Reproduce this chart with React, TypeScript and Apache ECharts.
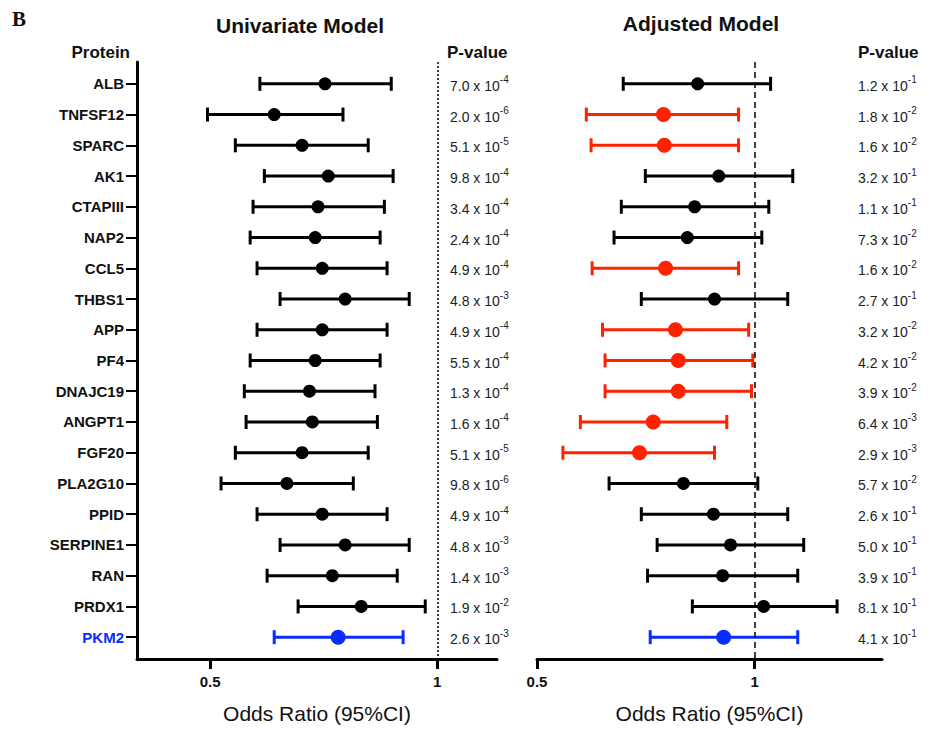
import React, { useEffect, useRef } from "react";
import * as echarts from "echarts";

// ---------------- data ----------------
const proteins = [
  "ALB", "TNFSF12", "SPARC", "AK1", "CTAPIII", "NAP2", "CCL5", "THBS1", "APP", "PF4",
  "DNAJC19", "ANGPT1", "FGF20", "PLA2G10", "PPID", "SERPINE1", "RAN", "PRDX1", "PKM2",
];

// Univariate model: odds ratio and 95% CI
const uniOR = [0.710, 0.608, 0.662, 0.717, 0.695, 0.689, 0.704, 0.755, 0.704, 0.689, 0.677, 0.683, 0.662, 0.632, 0.704, 0.755, 0.726, 0.793, 0.739];
const uniLo = [0.582, 0.496, 0.540, 0.590, 0.570, 0.565, 0.577, 0.619, 0.577, 0.565, 0.555, 0.558, 0.540, 0.517, 0.577, 0.619, 0.595, 0.654, 0.608];
const uniHi = [0.869, 0.750, 0.810, 0.874, 0.851, 0.840, 0.858, 0.918, 0.858, 0.840, 0.827, 0.833, 0.810, 0.774, 0.858, 0.918, 0.885, 0.964, 0.901];
const uniP = ["7.0e-4", "2.0e-6", "5.1e-5", "9.8e-4", "3.4e-4", "2.4e-4", "4.9e-4", "4.8e-3", "4.9e-4", "5.5e-4", "1.3e-4", "1.6e-4", "5.1e-5", "9.8e-6", "4.9e-4", "4.8e-3", "1.4e-3", "1.9e-2", "2.6e-3"];

// Adjusted model: odds ratio and 95% CI
const adjOR = [0.834, 0.748, 0.750, 0.892, 0.826, 0.807, 0.753, 0.880, 0.777, 0.784, 0.784, 0.724, 0.693, 0.797, 0.877, 0.926, 0.903, 1.029, 0.906];
const adjLo = [0.658, 0.585, 0.594, 0.706, 0.654, 0.639, 0.596, 0.697, 0.616, 0.621, 0.621, 0.574, 0.543, 0.629, 0.697, 0.733, 0.711, 0.820, 0.717];
const adjHi = [1.052, 0.950, 0.950, 1.129, 1.046, 1.023, 0.950, 1.111, 0.981, 0.994, 0.990, 0.915, 0.880, 1.010, 1.111, 1.169, 1.147, 1.300, 1.147];
const adjP = ["1.2e-1", "1.8e-2", "1.6e-2", "3.2e-1", "1.1e-1", "7.3e-2", "1.6e-2", "2.7e-1", "3.2e-2", "4.2e-2", "3.9e-2", "6.4e-3", "2.9e-3", "5.7e-2", "2.6e-1", "5.0e-1", "3.9e-1", "8.1e-1", "4.1e-1"];

const adjSignificant = ["TNFSF12", "SPARC", "CCL5", "APP", "PF4", "DNAJC19", "ANGPT1", "FGF20"];
const highlight = "PKM2";
const xTicks = [0.5, 1];

// ---------------- styling ----------------
const FONT = "'Liberation Sans', Arial, Helvetica, sans-serif";
const BLACK = "#000000";
const RED = "#ff2200";
const BLUE = "#0a2cff";
const rowIdx = proteins.map((_, i) => i);

const colorUni = (n: string) => (n === highlight ? BLUE : BLACK);
const colorAdj = (n: string) => (n === highlight ? BLUE : adjSignificant.includes(n) ? RED : BLACK);

const pRich = (s: string) => {
  const [m, e] = s.split("e");
  return `{m|${m} x 10}{e|${e}}`;
};

const pRichStyles = {
  m: { fontFamily: FONT, fontSize: 14, color: "#222", lineHeight: 18, verticalAlign: "bottom" },
  e: { fontFamily: FONT, fontSize: 10, color: "#222", lineHeight: 18, verticalAlign: "top" },
};

const errRender = (params: any, api: any) => {
  const y = api.value(2);
  const a = api.coord([api.value(0), y]);
  const b = api.coord([api.value(1), y]);
  const c = api.visual("color");
  const h = 7;
  const st = { stroke: c, lineWidth: 3 };
  return {
    type: "group",
    children: [
      { type: "line", shape: { x1: a[0], y1: a[1], x2: b[0], y2: b[1] }, style: st },
      { type: "line", shape: { x1: a[0], y1: a[1] - h, x2: a[0], y2: a[1] + h }, style: st },
      { type: "line", shape: { x1: b[0], y1: b[1] - h, x2: b[0], y2: b[1] + h }, style: st },
    ],
  };
};

const yBase = { type: "value", min: -0.71, max: 18.71, inverse: true, splitLine: { show: false } };

const xAxisCommon = (gridIndex: number, min: number, max: number) => ({
  gridIndex,
  type: "log",
  logBase: 2,
  min,
  max,
  splitLine: { show: false },
  axisLine: { show: true, onZero: false, lineStyle: { color: BLACK, width: 3 } },
  axisTick: { show: true, customValues: xTicks, length: 10, lineStyle: { color: BLACK, width: 3 } },
  axisLabel: {
    customValues: xTicks,
    formatter: (v: number) => String(v),
    fontFamily: FONT,
    fontSize: 15,
    fontWeight: "bold",
    color: "#111",
    margin: 15,
  },
  name: "Odds Ratio (95%CI)",
  nameLocation: "middle",
  nameGap: 44,
  nameTextStyle: { fontFamily: FONT, fontSize: 21, color: "#111" },
});

export default function App() {
  const ref = useRef<HTMLDivElement>(null);

  useEffect(() => {
    if (!ref.current) return;
    const chart = echarts.init(ref.current, undefined, { renderer: "svg" });

    const option: any = {
      animation: false,
      backgroundColor: "#ffffff",
      grid: [
        { left: 137, right: 433, top: 62, bottom: 66 },
        { left: 537, right: 48, top: 62, bottom: 66 },
      ],
      xAxis: [xAxisCommon(0, 0.4, 1.2), xAxisCommon(1, 0.5, 1.5)],
      yAxis: [
        {
          ...yBase,
          gridIndex: 0,
          position: "left",
          axisLine: { show: true, onZero: false, lineStyle: { color: BLACK, width: 3 } },
          axisTick: { show: true, customValues: rowIdx, length: 11, lineStyle: { color: BLACK, width: 2 } },
          axisLabel: {
            customValues: rowIdx,
            margin: 13,
            formatter: (v: number) => (proteins[v] === highlight ? `{h|${proteins[v]}}` : `{n|${proteins[v]}}`),
            rich: {
              n: { fontFamily: FONT, fontSize: 15, fontWeight: "bold", color: "#111" },
              h: { fontFamily: FONT, fontSize: 15, fontWeight: "bold", color: BLUE },
            },
          },
        },
        {
          ...yBase,
          gridIndex: 0,
          position: "right",
          offset: -47,
          axisLine: { show: false },
          axisTick: { show: false },
          axisLabel: {
            customValues: rowIdx,
            margin: 0,
            align: "left",
            formatter: (v: number) => pRich(uniP[v]),
            rich: pRichStyles,
          },
        },
        {
          ...yBase,
          gridIndex: 1,
          axisLine: { show: false },
          axisTick: { show: false },
          axisLabel: { show: false },
        },
        {
          ...yBase,
          gridIndex: 1,
          position: "right",
          offset: -24,
          axisLine: { show: false },
          axisTick: { show: false },
          axisLabel: {
            customValues: rowIdx,
            margin: 0,
            align: "left",
            formatter: (v: number) => pRich(adjP[v]),
            rich: pRichStyles,
          },
        },
      ],
      series: [
        {
          type: "custom",
          xAxisIndex: 0,
          yAxisIndex: 0,
          renderItem: errRender,
          encode: { x: [0, 1], y: 2 },
          data: proteins.map((n, i) => ({ value: [uniLo[i], uniHi[i], i], itemStyle: { color: colorUni(n) } })),
          markLine: {
            silent: true,
            symbol: ["none", "none"],
            label: { show: false },
            lineStyle: { type: [2, 2], color: BLACK, width: 1.5 },
            data: [{ xAxis: 1 }],
          },
          z: 2,
        },
        {
          type: "scatter",
          xAxisIndex: 0,
          yAxisIndex: 0,
          data: proteins.map((n, i) => ({
            value: [uniOR[i], i],
            symbolSize: n === highlight ? 15 : 13,
            itemStyle: { color: colorUni(n), opacity: 1 },
          })),
          z: 3,
        },
        {
          type: "custom",
          xAxisIndex: 1,
          yAxisIndex: 2,
          renderItem: errRender,
          encode: { x: [0, 1], y: 2 },
          data: proteins.map((n, i) => ({ value: [adjLo[i], adjHi[i], i], itemStyle: { color: colorAdj(n) } })),
          markLine: {
            silent: true,
            symbol: ["none", "none"],
            label: { show: false },
            lineStyle: { type: [6, 4], color: BLACK, width: 1.5 },
            data: [{ xAxis: 1 }],
          },
          z: 2,
        },
        {
          type: "scatter",
          xAxisIndex: 1,
          yAxisIndex: 2,
          data: proteins.map((n, i) => ({
            value: [adjOR[i], i],
            symbolSize: n === highlight || adjSignificant.includes(n) ? 15 : 13,
            itemStyle: { color: colorAdj(n), opacity: 1 },
          })),
          z: 3,
        },
      ],
      graphic: [
        {
          type: "text",
          x: 12,
          y: 19,
          style: { text: "B", font: "bold 21px 'Liberation Serif', 'Times New Roman', serif", fill: "#111", verticalAlign: "middle" },
        },
        {
          type: "text",
          x: 300,
          y: 25,
          style: { text: "Univariate Model", font: `bold 21px ${FONT}`, fill: "#111", align: "center", verticalAlign: "middle" },
        },
        {
          type: "text",
          x: 701,
          y: 23,
          style: { text: "Adjusted Model", font: `bold 21px ${FONT}`, fill: "#111", align: "center", verticalAlign: "middle" },
        },
        {
          type: "text",
          x: 130,
          y: 52,
          style: { text: "Protein", font: `bold 17px ${FONT}`, fill: "#111", align: "right", verticalAlign: "middle" },
        },
        {
          type: "text",
          x: 447,
          y: 52,
          style: { text: "P-value", font: `bold 17px ${FONT}`, fill: "#111", align: "left", verticalAlign: "middle" },
        },
        {
          type: "text",
          x: 858,
          y: 52,
          style: { text: "P-value", font: `bold 17px ${FONT}`, fill: "#111", align: "left", verticalAlign: "middle" },
        },
      ],
    };

    chart.setOption(option);
    return () => chart.dispose();
  }, []);

  return (
    <div
      ref={ref}
      style={{ position: "absolute", left: 0, top: 0, width: 930, height: 729, background: "#fff" }}
    />
  );
}
